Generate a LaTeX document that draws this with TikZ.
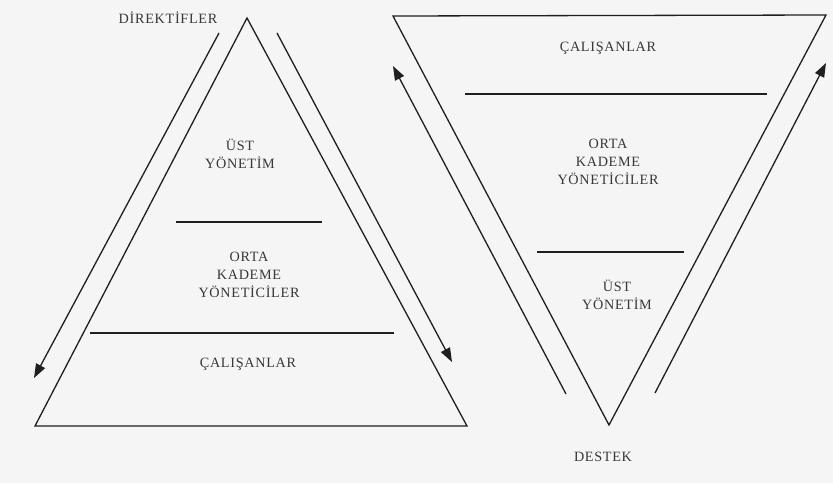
\documentclass[tikz,border=0pt]{standalone}
\usepackage{fontspec}
\setmainfont{Liberation Serif}[LetterSpace=5]
\usetikzlibrary{arrows.meta}
\begin{document}
\begin{tikzpicture}[x=1pt,y=-1pt,
  edge/.style={draw=black!88, line width=1.3pt, line join=miter},
  arr/.style={draw=black!88, line width=1.3pt, -{Triangle[length=14pt,width=10pt]}},
  lbl/.style={text=black!78, font=\fontsize{14.2}{18}\selectfont, align=center, inner sep=0pt},
]
\path[fill=black!4] (0,0) rectangle (833,483);
\useasboundingbox (0,0) rectangle (833,483);

% left pyramid
\coordinate (LA) at (247,18);
\coordinate (LL) at (35,426);
\coordinate (LR) at (467,426);
\draw[edge] (LA) -- (LL) -- (LR) -- cycle;
\coordinate (ld1a) at (176,222); \coordinate (ld1b) at (322,222);
\coordinate (ld2a) at (90,333);  \coordinate (ld2b) at (394,333);
\draw[edge] (ld1a) -- (ld1b);
\draw[edge] (ld2a) -- (ld2b);
\coordinate (la1s) at (219,33); \coordinate (la1e) at (34,378);
\coordinate (la2s) at (277,33); \coordinate (la2e) at (452,362);
\draw[arr] (la1s) -- (la1e);
\draw[arr] (la2s) -- (la2e);

\node[lbl] (dir) at (168,18) {DİREKTİFLER};
\node[lbl] (lust) at (240,154) {ÜST\\YÖNETİM};
\node[lbl] (lorta) at (249,275) {ORTA\\KADEME\\YÖNETİCİLER};
\node[lbl] (lcal) at (248,364) {ÇALIŞANLAR};

% right inverted pyramid
\coordinate (RL) at (393,16);
\coordinate (RR) at (826,15);
\coordinate (RA) at (609,425);
\draw[edge] (RL) -- (RR) -- (RA) -- cycle;
\coordinate (rd1a) at (465,94);  \coordinate (rd1b) at (767,94);
\coordinate (rd2a) at (537,252); \coordinate (rd2b) at (684,252);
\draw[edge] (rd1a) -- (rd1b);
\draw[edge] (rd2a) -- (rd2b);
\coordinate (ra1s) at (566,394); \coordinate (ra1e) at (393,66);
\coordinate (ra2s) at (655,393); \coordinate (ra2e) at (826,63);
\draw[arr] (ra1s) -- (ra1e);
\draw[arr] (ra2s) -- (ra2e);

\node[lbl] (rcal) at (608,48) {ÇALIŞANLAR};
\node[lbl] (rorta) at (608,162) {ORTA\\KADEME\\YÖNETİCİLER};
\node[lbl] (rust) at (617,295) {ÜST\\YÖNETİM};
\node[lbl] (des) at (603,457) {DESTEK};
\end{tikzpicture}
\end{document}
